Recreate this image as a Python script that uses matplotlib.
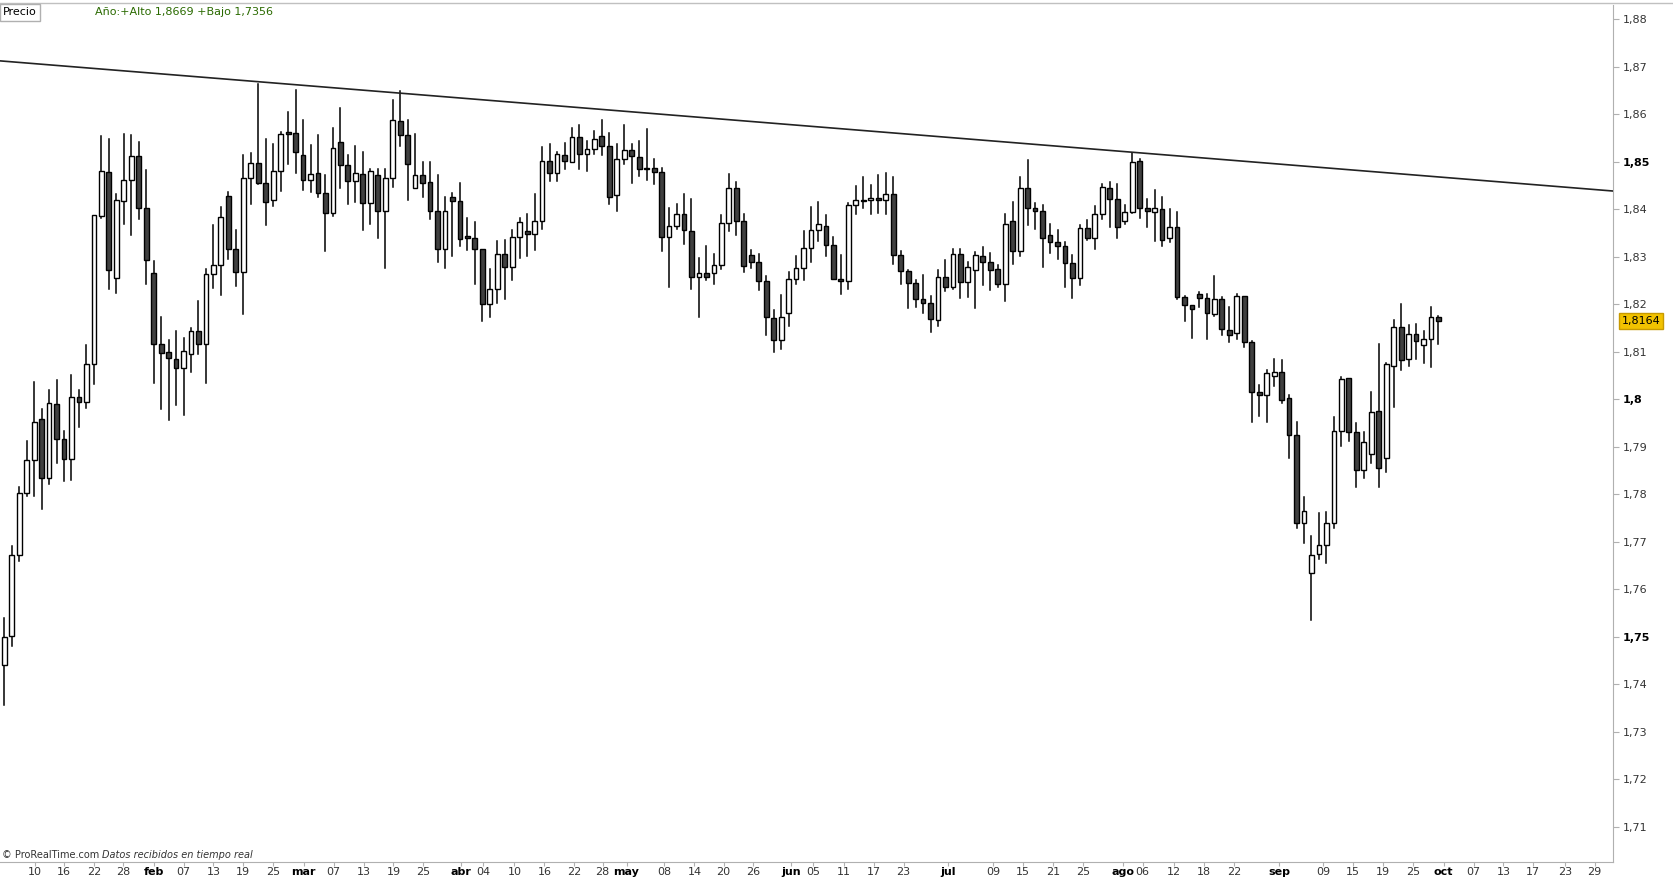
import matplotlib
matplotlib.use("Agg")
import matplotlib.pyplot as plt
from matplotlib.patches import Rectangle

opens = [1.744,1.7502,1.7672,1.7802,1.7871,1.7958,1.7835,1.799,1.7917,1.7873,1.8004,1.7993,1.8073,1.8385,1.8478,1.8256,1.8418,1.8461,1.8511,1.8403,
         1.8265,1.8117,1.810,1.8084,1.8066,1.8094,1.8144,1.8116,1.8263,1.8282,1.8428,1.8315,1.8268,1.8465,1.8496,1.8454,1.8419,1.8481,1.856,1.856,
         1.8513,1.8462,1.8475,1.8433,1.8391,1.8542,1.8492,1.846,1.8473,1.8412,1.8471,1.8397,1.8465,1.8585,1.8555,1.8445,1.8471,1.8457,1.8397,1.8315,
         1.8425,1.8416,1.8342,1.8339,1.8316,1.820,1.8231,1.8305,1.8279,1.8342,1.8353,1.8347,1.8375,1.8502,1.8476,1.8514,1.850,1.8551,1.8516,1.8526,
         1.8554,1.8533,1.8429,1.8505,1.8525,1.8509,1.8485,1.8486,1.8478,1.8341,1.8365,1.8389,1.8353,1.8258,1.8265,1.8265,1.8283,1.837,1.8444,1.8375,
         1.8303,1.8288,1.8248,1.817,1.8125,1.8181,1.8253,1.8276,1.8318,1.8356,1.8365,1.8324,1.8253,1.8248,1.8408,1.842,1.842,1.8423,1.8419,1.8432,
         1.8303,1.827,1.8244,1.821,1.8202,1.8167,1.8257,1.8237,1.8305,1.8246,1.8272,1.8302,1.8288,1.8274,1.8242,1.8375,1.8312,1.8444,1.8402,1.8396,
         1.8346,1.833,1.8323,1.8286,1.8255,1.836,1.8339,1.8389,1.8444,1.8421,1.8375,1.8394,1.8502,1.8402,1.8394,1.840,1.8339,1.8363,1.8214,1.8199,
         1.8222,1.8212,1.8179,1.821,1.8146,1.814,1.8218,1.812,1.8016,1.8008,1.8049,1.8058,1.8002,1.7925,1.7739,1.7634,1.7674,1.7692,1.774,1.7933,
         1.8045,1.7931,1.7851,1.7884,1.7975,1.7876,1.807,1.8152,1.8084,1.8137,1.8114,1.8126,1.8173]
highs = [1.754,1.769,1.7816,1.7911,1.8036,1.798,1.802,1.8041,1.7933,1.8051,1.802,1.8113,1.8388,1.8553,1.8548,1.8432,1.8558,1.8556,1.8542,1.8482,
         1.829,1.8173,1.8124,1.8143,1.8129,1.815,1.8207,1.8274,1.8367,1.8404,1.8435,1.8356,1.8514,1.8519,1.8664,1.8547,1.8538,1.8562,1.8604,1.865,
         1.8587,1.8535,1.8556,1.8472,1.8571,1.8612,1.8514,1.8533,1.8521,1.8485,1.8484,1.8484,1.863,1.8648,1.8587,1.8559,1.8499,1.8499,1.8471,1.8425,
         1.8433,1.8454,1.8381,1.8372,1.8316,1.8273,1.8333,1.8335,1.8356,1.8382,1.839,1.8432,1.853,1.8537,1.8521,1.8539,1.857,1.8577,1.8544,1.8565,
         1.8588,1.856,1.8537,1.8577,1.8537,1.8544,1.8569,1.8506,1.8486,1.8403,1.8411,1.8432,1.8421,1.8298,1.8323,1.8306,1.8388,1.8474,1.8456,1.839,
         1.8314,1.8306,1.826,1.8188,1.822,1.8267,1.8302,1.8354,1.8404,1.8414,1.8388,1.8341,1.8304,1.8413,1.8449,1.8467,1.8451,1.8472,1.8476,1.8467,
         1.8312,1.8272,1.825,1.8262,1.8217,1.8272,1.8293,1.8316,1.8316,1.8288,1.8309,1.832,1.8307,1.8283,1.839,1.8415,1.8467,1.8504,1.8413,1.8409,
         1.8369,1.8356,1.833,1.8304,1.8366,1.8378,1.8406,1.8452,1.8458,1.8453,1.8408,1.8519,1.8505,1.8421,1.844,1.8426,1.840,1.8393,1.8218,1.8199,
         1.8226,1.8222,1.8259,1.8216,1.8193,1.8222,1.8218,1.8123,1.8029,1.8061,1.8084,1.8082,1.8008,1.7952,1.7793,1.7711,1.776,1.7763,1.7963,1.8047,
         1.8045,1.7949,1.7931,1.8016,1.8117,1.8075,1.8167,1.820,1.8157,1.8159,1.8143,1.8193,1.8176]
lows = [1.7356,1.748,1.7659,1.7797,1.7797,1.7768,1.7822,1.7865,1.7828,1.783,1.7941,1.7981,1.8032,1.8381,1.8231,1.8223,1.8369,1.8346,1.8379,1.8242,
        1.8035,1.798,1.7956,1.7987,1.7966,1.8057,1.8096,1.8035,1.8234,1.822,1.8296,1.8238,1.818,1.8411,1.8452,1.8366,1.8407,1.8439,1.8494,1.8476,
        1.8441,1.8436,1.8426,1.8312,1.8385,1.8445,1.8411,1.8415,1.8357,1.8369,1.8339,1.8275,1.8447,1.8533,1.842,1.8445,1.8426,1.838,1.8289,1.8276,
        1.8302,1.8323,1.8314,1.8242,1.8165,1.8172,1.8202,1.821,1.825,1.8297,1.8302,1.8313,1.8358,1.846,1.8459,1.8485,1.8499,1.8485,1.8481,1.8516,
        1.8513,1.8411,1.8395,1.8494,1.8454,1.8469,1.8462,1.8453,1.8311,1.8235,1.8358,1.8326,1.8231,1.8172,1.8251,1.8242,1.8274,1.8353,1.8346,1.8267,
        1.8277,1.8229,1.8135,1.8099,1.8106,1.8153,1.8243,1.825,1.8288,1.8332,1.8302,1.8253,1.8222,1.8232,1.8389,1.8403,1.8389,1.8392,1.839,1.8284,
        1.8242,1.8192,1.8194,1.8181,1.8142,1.8154,1.8227,1.8231,1.8213,1.8215,1.8191,1.824,1.8229,1.8237,1.8206,1.8284,1.8302,1.8366,1.8358,1.8279,
        1.8307,1.8295,1.8237,1.8213,1.824,1.8334,1.8316,1.838,1.8363,1.834,1.8368,1.8392,1.8382,1.8363,1.8332,1.8323,1.833,1.8211,1.8165,1.8128,
        1.8193,1.8126,1.8175,1.8135,1.812,1.8126,1.811,1.7952,1.7964,1.7951,1.8028,1.7992,1.7876,1.7728,1.7698,1.7536,1.7663,1.7656,1.7728,1.7902,
        1.7911,1.7816,1.7833,1.7866,1.7816,1.7846,1.7984,1.8061,1.807,1.8084,1.8076,1.8067,1.8116]
closes = [1.750,1.7672,1.7802,1.7871,1.7952,1.7835,1.7992,1.7917,1.7873,1.8004,1.7993,1.8073,1.8388,1.848,1.8271,1.842,1.8461,1.8511,1.8403,1.8292,
          1.8117,1.8098,1.8086,1.8066,1.8102,1.8144,1.8116,1.8263,1.8282,1.8383,1.8315,1.8268,1.8465,1.8496,1.8454,1.8415,1.8481,1.8559,1.8559,1.852,
          1.8462,1.8473,1.8433,1.8391,1.8528,1.8492,1.846,1.8475,1.8412,1.8481,1.8397,1.8465,1.8587,1.8555,1.8494,1.8471,1.8455,1.8397,1.8315,1.8397,
          1.8416,1.8338,1.834,1.8316,1.820,1.8231,1.8305,1.8279,1.8342,1.8372,1.8347,1.8375,1.8502,1.8476,1.8516,1.8502,1.8551,1.8516,1.8526,1.8547,
          1.8533,1.8426,1.8505,1.8525,1.8511,1.8484,1.8484,1.8478,1.8341,1.8365,1.8389,1.8356,1.8258,1.8265,1.8258,1.8283,1.837,1.8444,1.8375,1.828,
          1.8288,1.8248,1.8173,1.8125,1.8173,1.8253,1.8276,1.8318,1.8356,1.8368,1.8324,1.8253,1.8248,1.8408,1.842,1.8417,1.8423,1.8419,1.8432,1.8303,
          1.8269,1.8244,1.821,1.8202,1.8168,1.8257,1.8237,1.8305,1.8246,1.8278,1.8304,1.8288,1.8272,1.8242,1.8368,1.8312,1.8444,1.8402,1.8396,1.8339,
          1.833,1.8323,1.8286,1.8255,1.836,1.8339,1.8389,1.8446,1.8421,1.8362,1.8394,1.850,1.8402,1.8396,1.8403,1.8335,1.8363,1.8214,1.8199,1.819,
          1.8212,1.8181,1.821,1.8147,1.8134,1.8218,1.812,1.8016,1.8008,1.8055,1.8058,1.7999,1.7925,1.7739,1.7764,1.7672,1.7692,1.774,1.7933,1.8043,
          1.7931,1.7851,1.791,1.7972,1.7854,1.8073,1.8152,1.8082,1.8137,1.8123,1.8126,1.8173,1.8164]

tick_labels = ['10','16','22','28','feb','07','13','19','25','mar','07','13','19','25','abr','04','10','16','22','28',
               'may','08','14','20','26','jun','05','11','17','23','jul','09','15','21','25','ago','06','12','18','22',
               'sep','09','15','19','25','oct','07','13','17','23','29']
tick_pos = [4.1,8.0,12.0,15.9,20.0,24.0,28.0,32.0,36.0,40.1,44.1,48.1,52.1,56.1,61.1,64.1,68.3,72.3,76.3,80.1,
            83.3,88.3,92.4,96.3,100.3,105.3,108.3,112.4,116.4,120.4,126.3,132.4,136.4,140.4,144.4,149.7,152.4,156.6,160.6,164.6,
            170.7,176.6,180.6,184.6,188.6,192.7,196.7,200.7,204.7,208.9,212.9]
month_names = {'feb','mar','abr','may','jun','jul','ago','sep','oct'}
trend_x = [-0.57, 215.4]
trend_y = [1.8712, 1.8438]
last_price = 1.8164
year_high, year_low = "1,8669", "1,7356"

fig = plt.figure(figsize=(16.73, 8.8), dpi=100)
ax = fig.add_axes([0.0, 0.0206, 0.9643, 0.9734])
ax.set_xlim(-0.57, 215.4)
ax.set_ylim(1.7026, 1.8829)

w = 0.64
for i, (o, h, l, c) in enumerate(zip(opens, highs, lows, closes)):
    ax.plot([i, i], [l, min(o, c)], color='black', lw=1.1, zorder=2)
    ax.plot([i, i], [max(o, c), h], color='black', lw=1.1, zorder=2)
    fc = 'white' if c >= o else '#404040'
    bh = max(abs(c - o), 0.00025)
    ax.add_patch(Rectangle((i - w / 2, min(o, c)), w, bh, facecolor=fc, edgecolor='black', lw=1.0, zorder=3))

ax.plot(trend_x, trend_y, color='#222222', lw=1.2, zorder=4)

for s in ['left', 'top']:
    ax.spines[s].set_visible(False)
ax.spines['right'].set_color('#b0b0b0')
ax.spines['bottom'].set_color('#b0b0b0')

yt = [1.71 + 0.01 * k for k in range(18)]
ax.yaxis.tick_right()
ax.set_yticks(yt)
ax.set_yticklabels([("%.2f" % v).rstrip('0').replace('.', ',') if round(v, 2) in (1.8,) else ("%.2f" % v).replace('.', ',') for v in yt], fontsize=8, color='#333333')
for lab, v in zip(ax.get_yticklabels(), yt):
    if round(v * 100) % 5 == 0:
        lab.set_fontweight('bold')
        lab.set_color('black')
ax.tick_params(axis='y', length=4, color='#b0b0b0', pad=3)

ax.set_xticks(tick_pos)
ax.set_xticklabels(tick_labels, fontsize=8, color='#333333')
for lab in ax.get_xticklabels():
    if lab.get_text() in month_names:
        lab.set_fontweight('bold')
        lab.set_color('black')
ax.tick_params(axis='x', length=3, color='#b0b0b0', pad=1)

ax.annotate("1,8164", xy=(1.0, last_price), xycoords=('axes fraction', 'data'), xytext=(6, 0),
            textcoords='offset points', va='center', ha='left', fontsize=8,
            bbox=dict(boxstyle='square,pad=0.25', fc='#f2c200', ec='#c89a00'), zorder=10, annotation_clip=False)

fig.text(0.002, 0.986, "Precio", fontsize=8, va='center', ha='left',
         bbox=dict(boxstyle='square,pad=0.3', fc='white', ec='#b0b0b0'))
fig.text(0.057, 0.986, "Año:+Alto %s +Bajo %s" % (year_high, year_low), fontsize=8, va='center', ha='left', color='#2a6a00')
fig.text(0.001, 0.028, "© ProRealTime.com", fontsize=7, color='#333333', va='center')
fig.text(0.061, 0.028, "Datos recibidos en tiempo real", fontsize=7, color='#333333', style='italic', va='center')
fig.add_artist(plt.Line2D([0, 1], [0.997, 0.997], color='#c0c0c0', lw=1))

fig.savefig("out.png", dpi=100, facecolor='white')
